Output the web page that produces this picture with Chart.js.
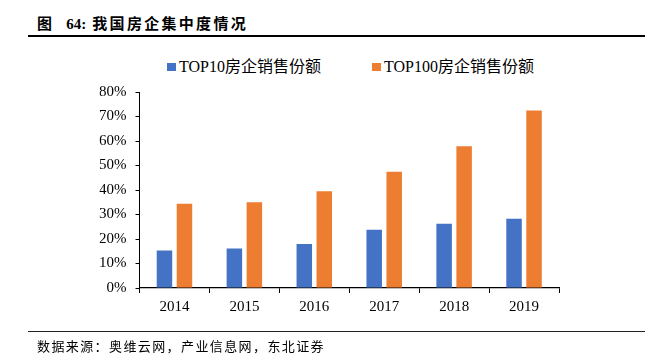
<!DOCTYPE html>
<html>
<head>
<meta charset="utf-8">
<script src="https://cdn.jsdelivr.net/npm/chart.js@4"></script>
<style>
  body { margin: 0; background: #fff; }
  #wrap { position: relative; width: 654px; height: 362px; overflow: hidden; }
  #chart { position: absolute; left: 0; top: 0; }
  .serif { font-family: "Liberation Serif", "Noto Sans CJK SC", serif; color: #000; }
  #title { position: absolute; left: 37px; top: 12px; font-size: 15px; font-weight: bold; letter-spacing: 2.3px; white-space: nowrap; }
  #title span { letter-spacing: 0; margin: 0 6px 0 12px; }
  #topline { position: absolute; left: 28px; top: 35px; width: 617px; height: 2px; background: #000; }
  #botline { position: absolute; left: 28px; top: 331px; width: 617px; height: 1px; background: #222; }
  #source { position: absolute; left: 37px; top: 336px; font-size: 13px; letter-spacing: 1.4px; white-space: nowrap; }
  .leg { position: absolute; top: 53px; font-size: 16px; white-space: nowrap; }
  .leg i { display: inline-block; width: 9px; height: 8px; margin-right: 3px; vertical-align: 1px; }
</style>
</head>
<body>
<div id="wrap">
  <div id="title" class="serif">图<span>64:</span>我国房企集中度情况</div>
  <div id="topline"></div>
  <div id="legend"></div>
  <canvas id="chart" width="654" height="362"></canvas>
  <div id="botline"></div>
  <div id="source" class="serif">数据来源：奥维云网，产业信息网，东北证券</div>
</div>
<script>
const years = ["2014", "2015", "2016", "2017", "2018", "2019"]
const top10 = [15.3, 16.1, 18.0, 23.8, 26.2, 28.3]
const top100 = [34.4, 35.0, 39.5, 47.5, 57.9, 72.5]
const seriesNames = ["TOP10房企销售份额", "TOP100房企销售份额"]
const barColors = ["#4472C4", "#ED7D31"]

// legend drawn as html so it can sit where the original has it
const legendX = [167, 372]
let legendHtml = ""
seriesNames.forEach((name, i) => {
  legendHtml += '<div class="leg serif" style="left:' + legendX[i] + 'px"><i style="background:' + barColors[i] + '"></i>' + name + '</div>'
})
document.getElementById("legend").innerHTML = legendHtml

const tickFont = { family: "'Liberation Serif', 'Times New Roman', serif", size: 15 }

new Chart("chart", {
  type: "bar",
  data: {
    labels: years,
    datasets: [
      { label: seriesNames[0], data: top10, backgroundColor: barColors[0] },
      { label: seriesNames[1], data: top100, backgroundColor: barColors[1] }
    ]
  },
  options: {
    responsive: false,
    animation: false,
    layout: { padding: { left: 99.5, right: 95, top: 92, bottom: 44 } },
    datasets: { bar: { categoryPercentage: 0.572, barPercentage: 0.775 } },
    plugins: { legend: { display: false }, tooltip: { enabled: false } },
    scales: {
      x: {
        afterFit: (s) => { s.height = 30 },
        grid: { drawOnChartArea: false, drawTicks: true, tickLength: 5, color: "#000", offset: true },
        border: { color: "#000", width: 1.3 },
        ticks: { color: "#000", font: tickFont, padding: 5 }
      },
      y: {
        min: 0,
        max: 80,
        afterFit: (s) => { s.width = 40 },
        grid: { drawOnChartArea: false, drawTicks: true, tickLength: 4, color: "#000" },
        border: { color: "#000", width: 1 },
        ticks: { stepSize: 10, color: "#000", font: tickFont, padding: 9, callback: (v) => v + "%" }
      }
    }
  }
})
</script>
</body>
</html>
